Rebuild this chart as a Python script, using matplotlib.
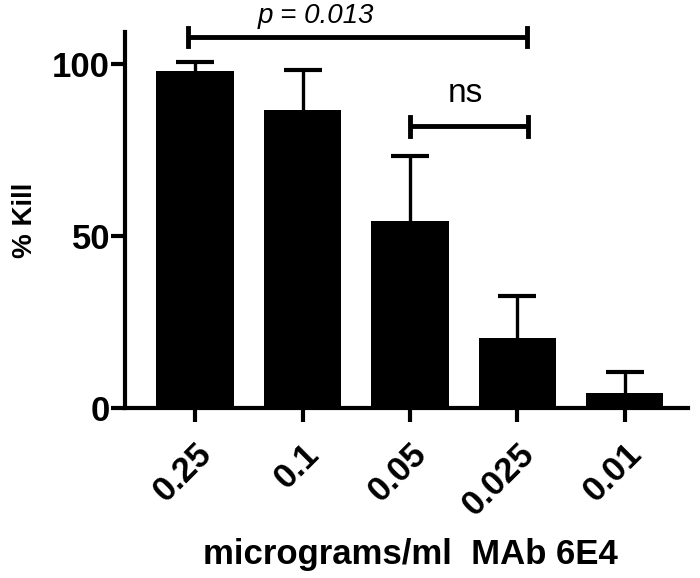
import numpy as np
import matplotlib
matplotlib.use("Agg")
import matplotlib.pyplot as plt

plt.rcParams['font.family'] = ['Liberation Sans', 'DejaVu Sans']

# data
doses = ['0.25', '0.1', '0.05', '0.025', '0.01']
kill = [97.8, 86.6, 54.4, 20.3, 4.5]
kill_err = [2.8, 11.7, 18.9, 12.3, 6.0]

fig = plt.figure(figsize=(7, 5.78), dpi=100)
ax = fig.add_axes([0.179, 0.294, 0.804, 0.651])

x = np.arange(len(doses))
tops = np.array(kill) + np.array(kill_err)
ax.bar(x, kill, width=0.72, color='black', zorder=2)
# upper error bars only
ax.vlines(x, kill, tops, color='black', lw=2.4, zorder=1)
ax.plot(x, tops, ls='none', marker='_', markersize=27, mew=3, color='black', zorder=1)

ax.set_xlim(-0.65, 4.59)
ax.set_ylim(0, 109.3)
ax.set_yticks([0, 50, 100])
ax.set_xticks(x)
ax.set_xticklabels(doses, rotation=45, ha='right', rotation_mode='anchor')

for s in ['top', 'right']:
    ax.spines[s].set_visible(False)
for s in ['left', 'bottom']:
    ax.spines[s].set_linewidth(3)
ax.tick_params(axis='both', width=3, length=10)
ax.tick_params(axis='y', labelsize=25, pad=1)
ax.tick_params(axis='x', labelsize=25, pad=11)
for lab in ax.get_xticklabels() + ax.get_yticklabels():
    lab.set_fontweight('bold')

ax.set_ylabel('% Kill', fontsize=20, fontweight='bold', labelpad=10)
# x axis title placed in figure coords so it stays inside the canvas
fig.text(0.586, 0.04, 'micrograms/ml  MAb 6E4', fontsize=25, fontweight='bold',
         ha='center', va='center')

# significance brackets
def bracket(x0, x1, y, h):
    ax.plot([x0, x1], [y, y], color='black', lw=3.5, clip_on=False, solid_capstyle='butt')
    for xx in (x0, x1):
        ax.plot([xx, xx], [y - h, y + h], color='black', lw=3.5, clip_on=False)

bracket(-0.07, 3.09, 107.8, 2.5)
ax.text(1.12, 114.0, 'p = 0.013', ha='center', va='center', fontsize=20,
        style='italic', clip_on=False)
bracket(2.0, 3.1, 81.8, 2.8)
ax.text(2.52, 91.5, 'ns', ha='center', va='center', fontsize=24, clip_on=False)

fig.savefig('out.png', dpi=100)
